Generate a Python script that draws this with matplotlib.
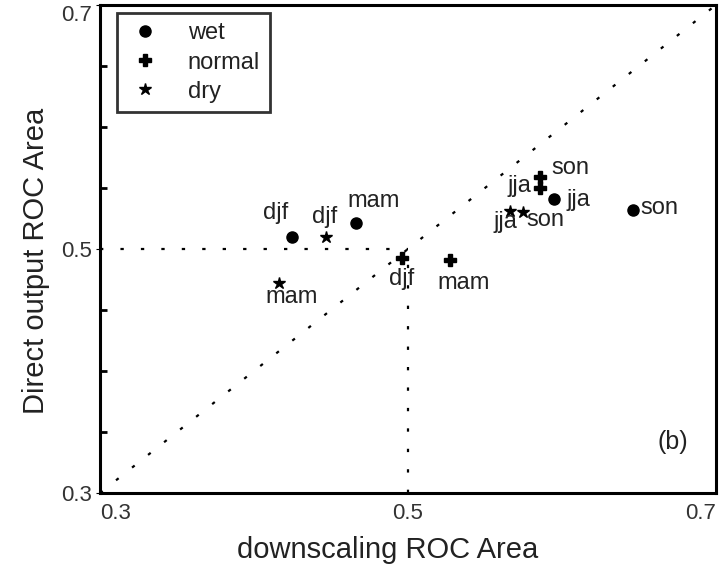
import numpy as np
import matplotlib.pyplot as plt

plt.rcParams['font.family'] = ['Liberation Sans', 'DejaVu Sans']

# seasons for each category (same order in every series)
seasons = ['djf', 'mam', 'jja', 'son']

# downscaling ROC area (x) and direct output ROC area (y)
wet_x = [0.425, 0.466, 0.595, 0.646]
wet_y = [0.510, 0.521, 0.541, 0.532]
normal_x = [0.496, 0.527, 0.586, 0.586]
normal_y = [0.493, 0.491, 0.550, 0.559]
dry_x = [0.447, 0.416, 0.566, 0.575]
dry_y = [0.510, 0.472, 0.531, 0.530]

# label offsets in pixels (dx, dy) from each point
wet_off = [(-17, 24), (18, 22), (24, -1), (27, 2)]
normal_off = [(0, -21), (14, -23), (-21, 2), (30, 9)]
dry_off = [(-2, 20), (13, -14), (-4, -11), (22, -8)]

fig = plt.figure(figsize=(7.22, 5.64), dpi=100)
ax = fig.add_axes([0.1385, 0.1259, 0.853, 0.8652])

# reference lines
dots = (0, (1.5, 7.7))
ax.plot([0.3, 0.7], [0.3, 0.7], color='k', lw=1.6, linestyle=dots)
ax.plot([0.3, 0.5], [0.5, 0.5], color='k', lw=1.6, linestyle=dots)
ax.plot([0.5, 0.5], [0.3, 0.5], color='k', lw=1.6, linestyle=dots)

ax.plot(wet_x, wet_y, 'o', color='k', ms=8, label='wet')
ax.plot(normal_x, normal_y, 'P', color='k', ms=9, label='normal')
ax.plot(dry_x, dry_y, '*', color='k', ms=9, label='dry')

for xs, ys, offs in [(wet_x, wet_y, wet_off), (normal_x, normal_y, normal_off),
                     (dry_x, dry_y, dry_off)]:
    for s, x, y, o in zip(seasons, xs, ys, offs):
        ax.annotate(s, (x, y), xytext=o, textcoords='offset pixels',
                    ha='center', va='center', fontsize=17, color='#222222')

ax.text(0.672, 0.342, '(b)', fontsize=18, ha='center', va='center', color='#222222')

ax.set_xlim(0.3, 0.7)
ax.set_ylim(0.3, 0.7)
ax.set_xticks([0.3, 0.5, 0.7])
xl = ax.set_xticklabels(['0.3', '0.5', '0.7'])
xl[0].set_ha('left')
xl[2].set_ha('right')
ax.set_yticks([0.3, 0.5, 0.7])
yl = ax.set_yticklabels(['0.3', '0.5', '0.7'])
yl[2].set_va('top')
ax.set_yticks(np.arange(0.35, 0.7, 0.05), minor=True)
ax.tick_params(axis='x', length=0, labelsize=16, pad=7, labelcolor='#333333')
ax.tick_params(axis='y', which='major', length=3, direction='out', labelsize=16,
               pad=3, labelcolor='#333333')
ax.tick_params(axis='y', which='minor', length=5, width=2, direction='in')
for sp in ax.spines.values():
    sp.set_linewidth(2.2)

ax.set_xlabel('downscaling ROC Area', fontsize=21, color='#222222')
ax.xaxis.set_label_coords(0.4675, -0.088)
ax.set_ylabel('Direct output ROC Area', fontsize=21, color='#222222', va='center')
ax.yaxis.set_label_coords(-0.104, 0.475)

leg = ax.legend(loc='upper left', bbox_to_anchor=(0.0276, 0.9836), fontsize=17,
                frameon=True, fancybox=False, edgecolor='k', handletextpad=1.0,
                borderpad=0.4, labelspacing=0.3, handlelength=1.6,
                borderaxespad=0)
leg.get_frame().set_linewidth(2)
for t in leg.get_texts():
    t.set_color('#222222')

fig.savefig('out.png', dpi=100)
